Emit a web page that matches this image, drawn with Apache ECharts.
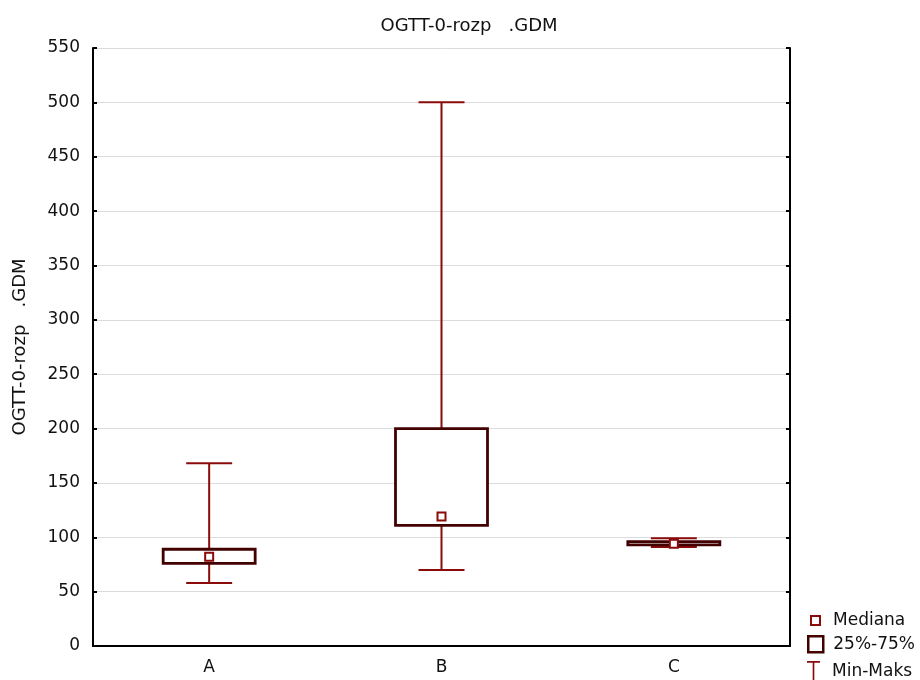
<!DOCTYPE html>
<html>
<head>
<meta charset="utf-8">
<title>OGTT-0-rozp .GDM</title>
<script src="https://cdn.jsdelivr.net/npm/echarts@6/dist/echarts.min.js"></script>
<style>
  html, body { margin: 0; padding: 0; background: #fff; }
  #chart { width: 920px; height: 680px; }
</style>
</head>
<body>
<div id="chart"></div>
<script>
// dane
var categories = ["A", "B", "C"];
var minVals = [58, 70, 91];
var q1Vals = [76, 111, 93];
var medianVals = [82, 119, 94];
var q3Vals = [89, 200, 96];
var maxVals = [168, 500, 99];
var yTicks = { min: 0, max: 550, interval: 50 };

var whiskerColor = "#8b0a0a";
var boxColor = "#420000";
var font = "DejaVu Sans, Verdana, sans-serif";

var boxData = categories.map(function (c, i) {
  return [i, minVals[i], q1Vals[i], q3Vals[i], maxVals[i]];
});
var medianData = categories.map(function (c, i) {
  return [i, medianVals[i]];
});

// wasy + pudełko
function renderBox(params, api) {
  var x = api.value(0);
  var pMin = api.coord([x, api.value(1)]);
  var pQ1 = api.coord([x, api.value(2)]);
  var pQ3 = api.coord([x, api.value(3)]);
  var pMax = api.coord([x, api.value(4)]);
  var cx = pMin[0];
  var boxW = 92, capW = 46;
  var lineStyle = { stroke: whiskerColor, lineWidth: 2, fill: null };
  return {
    type: "group",
    children: [
      { type: "line", shape: { x1: cx, y1: pMin[1], x2: cx, y2: pQ1[1] }, style: lineStyle },
      { type: "line", shape: { x1: cx, y1: pQ3[1], x2: cx, y2: pMax[1] }, style: lineStyle },
      { type: "line", shape: { x1: cx - capW / 2, y1: pMin[1], x2: cx + capW / 2, y2: pMin[1] }, style: lineStyle },
      { type: "line", shape: { x1: cx - capW / 2, y1: pMax[1], x2: cx + capW / 2, y2: pMax[1] }, style: lineStyle },
      {
        type: "rect",
        shape: { x: cx - boxW / 2, y: pQ3[1], width: boxW, height: pQ1[1] - pQ3[1] },
        style: { fill: "#fff", stroke: boxColor, lineWidth: 2.8 }
      }
    ]
  };
}

var chart = echarts.init(document.getElementById("chart"));
chart.setOption({
  animation: false,
  title: {
    text: "OGTT-0-rozp   .GDM",
    left: 464,
    textAlign: "center",
    top: 12,
    textStyle: { fontFamily: font, fontSize: 18, fontWeight: "normal", color: "#111" }
  },
  legend: [
    {
      data: [{ name: "Mediana", icon: "rect" }],
      left: 805, top: 607, itemWidth: 9, itemHeight: 9,
      itemStyle: { color: "#fff", borderColor: whiskerColor, borderWidth: 2 },
      textStyle: { fontFamily: font, fontSize: 17, color: "#111", padding: [0, 0, 0, 8] },
      selectedMode: false
    },
    {
      data: [{ name: "25%-75%", icon: "rect" }],
      left: 802, top: 630, itemWidth: 15, itemHeight: 16,
      itemStyle: { color: "#fff", borderColor: boxColor, borderWidth: 2.5 },
      textStyle: { fontFamily: font, fontSize: 17, color: "#111", padding: [0, 0, 0, 5] },
      selectedMode: false
    },
    {
      data: [{ name: "Min-Maks", icon: "path://M0,0L14,0L14,2L7.9,2L7.9,22L6.1,22L6.1,2L0,2Z" }],
      left: 802, top: 656, itemWidth: 13, itemHeight: 22,
      itemStyle: { color: whiskerColor, borderWidth: 0 },
      textStyle: { fontFamily: font, fontSize: 17, color: "#111", padding: [2, 0, 0, 7] },
      selectedMode: false
    }
  ],
  grid: { left: 93, right: 130, top: 48, bottom: 34, outerBoundsMode: "none", containLabel: false },
  xAxis: [
    {
      type: "category",
      data: categories,
      axisLine: { lineStyle: { color: "#000", width: 2 } },
      axisTick: { inside: true, alignWithLabel: true, length: 3, lineStyle: { color: "#000", width: 2 } },
      axisLabel: { fontFamily: font, fontSize: 17, color: "#111", margin: 13 }
    },
    {
      type: "category",
      position: "top",
      data: categories,
      axisLine: { lineStyle: { color: "#000", width: 2 } },
      axisTick: { show: false },
      axisLabel: { show: false }
    }
  ],
  yAxis: [
    {
      type: "value",
      min: yTicks.min, max: yTicks.max, interval: yTicks.interval,
      name: "OGTT-0-rozp   .GDM",
      nameLocation: "middle",
      nameGap: 64,
      nameTextStyle: { fontFamily: font, fontSize: 18, color: "#111" },
      axisLine: { show: true, lineStyle: { color: "#000", width: 2 } },
      axisTick: { show: true, inside: true, length: 4, lineStyle: { color: "#000", width: 2 } },
      axisLabel: { fontFamily: font, fontSize: 17, color: "#111", margin: 13 },
      splitLine: { lineStyle: { color: "#dcdcdc", width: 1 } }
    },
    {
      type: "value",
      position: "right",
      min: yTicks.min, max: yTicks.max, interval: yTicks.interval,
      axisLine: { show: true, lineStyle: { color: "#000", width: 2 } },
      axisTick: { show: true, inside: true, length: 4, lineStyle: { color: "#000", width: 2 } },
      axisLabel: { show: false },
      splitLine: { show: false }
    }
  ],
  series: [
    {
      name: "25%-75%",
      type: "custom",
      renderItem: renderBox,
      data: boxData,
      encode: { x: 0, y: [1, 2, 3, 4] },
      z: 2
    },
    {
      name: "Min-Maks",
      type: "custom",
      renderItem: function () { return null; },
      data: []
    },
    {
      name: "Mediana",
      type: "scatter",
      data: medianData,
      symbol: "rect",
      symbolSize: 8,
      itemStyle: { color: "#fff", borderColor: whiskerColor, borderWidth: 2, opacity: 1 },
      z: 5
    }
  ]
});
</script>
</body>
</html>
